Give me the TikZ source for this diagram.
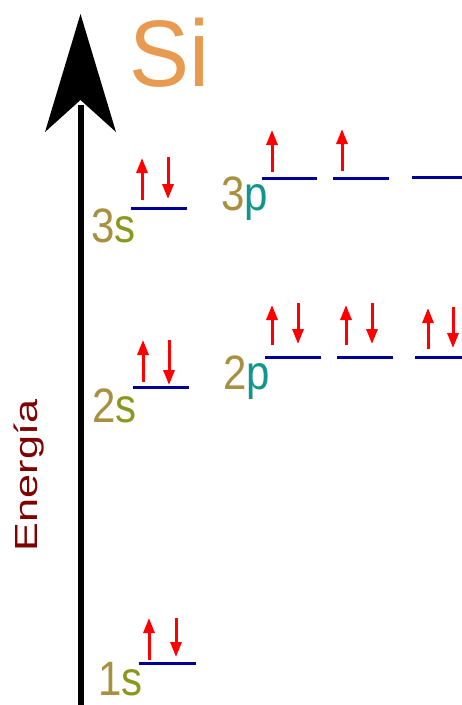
\documentclass[tikz,border=0pt]{standalone}
\usepackage{fontspec}
\setmainfont{Liberation Sans}
\usetikzlibrary{arrows.meta}
\definecolor{siorange}{RGB}{232,155,80}
\definecolor{numgold}{RGB}{168,144,64}
\definecolor{sgreen}{RGB}{138,152,30}
\definecolor{pteal}{RGB}{16,150,140}
\definecolor{enred}{RGB}{128,0,0}
\definecolor{levelblue}{RGB}{0,0,150}
\definecolor{espin}{RGB}{255,0,0}
\newcommand\orblabel[2]{\scalebox{1}[1.15]{\fontsize{42}{42}\selectfont\textcolor{numgold}{#1}#2}}
\tikzset{
  levelline/.style={draw=levelblue, line width=3pt},
  spin/.style={draw=espin, line width=3pt, -{Triangle[width=11pt,length=15pt]}},
  lbl/.style={anchor=base west, inner sep=0pt, outer sep=0pt},
}
\begin{document}
\begin{tikzpicture}[x=1pt,y=-1pt]
\useasboundingbox (0,0) rectangle (462,705);
\clip (0,0) rectangle (462,705);
\fill[white] (0,0) rectangle (462,705);

% energy axis
\coordinate (axbot) at (80.5,705);
\coordinate (axjoin) at (80.5,105);
\coordinate (axtip) at (80.5,14);
\coordinate (axleft) at (45,132);
\coordinate (axright) at (116,132);
\coordinate (axnotch) at (80.5,100);
\draw[line width=6pt] (axbot) -- (axjoin);
\fill (axtip) -- (axright) -- (axnotch) -- (axleft) -- cycle;

% title and axis label
\node[lbl, text=siorange] (title) at (129,86) {\scalebox{1}[1.05]{\fontsize{90}{90}\selectfont Si}};
\node[lbl, rotate=90, text=enred] (energy) at (37,551) {\scalebox{1.35}[1]{\fontsize{32}{32}\selectfont Energía}};

% orbital labels
\node[lbl] (l1s) at (98,695) {\orblabel{1}{\textcolor{sgreen}{s}}};
\node[lbl] (l2s) at (92,422) {\orblabel{2}{\textcolor{sgreen}{s}}};
\node[lbl] (l3s) at (91,242) {\orblabel{3}{\textcolor{sgreen}{s}}};
\node[lbl] (l2p) at (223,389) {\orblabel{2}{\textcolor{pteal}{p}}};
\node[lbl] (l3p) at (221,210) {\orblabel{3}{\textcolor{pteal}{p}}};

% energy levels
\coordinate (s1a) at (139,663); \coordinate (s1b) at (196,663);
\coordinate (s2a) at (133,387); \coordinate (s2b) at (189,387);
\coordinate (s3a) at (131,208); \coordinate (s3b) at (187,208);
\coordinate (pa1) at (265,357); \coordinate (pb1) at (321,357);
\coordinate (pa2) at (337,357); \coordinate (pb2) at (393,357);
\coordinate (pa3) at (415,357); \coordinate (pb3) at (471,357);
\coordinate (qa1) at (262,178); \coordinate (qb1) at (317,178);
\coordinate (qa2) at (333,178); \coordinate (qb2) at (389,178);
\coordinate (qa3) at (412,177); \coordinate (qb3) at (468,177);
\foreach \a/\b in {s1a/s1b,s2a/s2b,s3a/s3b,pa1/pb1,pa2/pb2,pa3/pb3,qa1/qb1,qa2/qb2,qa3/qb3}
  \draw[levelline] (\a) -- (\b);

% electrons (up: x, bottom, top ; down: x, top, bottom)
\foreach \x/\y/\z in {149/660/618, 143/382/340, 142/200/158,
                      272/345/305, 346/345/305, 428/349/308,
                      272/172/130, 342/171/129}
  \draw[spin] (\x,\y) -- (\x,\z);
\foreach \x/\y/\z in {176/618/657, 169/340/385, 168/157/199,
                      298/303/344, 372/303/344, 453/307/348}
  \draw[spin] (\x,\y) -- (\x,\z);
\end{tikzpicture}
\end{document}
